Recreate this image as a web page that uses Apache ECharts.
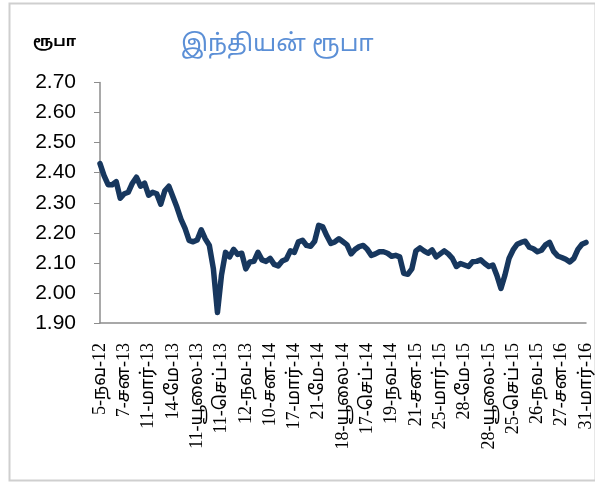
<!DOCTYPE html>
<html>
<head>
<meta charset="utf-8">
<script src="https://cdn.jsdelivr.net/npm/echarts@6/dist/echarts.min.js"></script>
<style>
  html, body { margin: 0; padding: 0; background: #fff; }
  #rupee { width: 595px; height: 484px; }
</style>
</head>
<body>
<div id="rupee"></div>
<script>
// tick labels shown every 6th point on the x axis
const tickLabels = [
    '5-நவ-12', '7-சன-13', '11-மார்-13', '14-மே-13', '11-யூலை-13', '11-செப்-13',
    '12-நவ-13', '10-சன-14', '17-மார்-14', '21-மே-14', '18-யூலை-14', '17-செப்-14',
    '19-நவ-14', '21-சன-15', '25-மார்-15', '28-மே-15', '28-யூலை-15', '25-செப்-15',
    '26-நவ-15', '27-சன-16', '31-மார்-16'
];
const pointsPerTick = 6;

// rupee values
const rates = [
    2.43, 2.39, 2.36, 2.36, 2.37, 2.315,
    2.33, 2.335, 2.365, 2.385, 2.355, 2.365,
    2.325, 2.335, 2.33, 2.295, 2.34, 2.355,
    2.32, 2.285, 2.245, 2.215, 2.175, 2.17,
    2.176, 2.21, 2.18, 2.158, 2.08, 1.935,
    2.06, 2.135, 2.12, 2.145, 2.128, 2.132,
    2.08, 2.103, 2.105, 2.135, 2.11, 2.105,
    2.115, 2.095, 2.09, 2.106, 2.112, 2.14,
    2.135, 2.17, 2.175, 2.158, 2.155, 2.172,
    2.225, 2.22, 2.19, 2.165, 2.17, 2.18,
    2.17, 2.16, 2.13, 2.145, 2.154, 2.158,
    2.145, 2.125, 2.13, 2.137, 2.137, 2.132,
    2.122, 2.125, 2.12, 2.065, 2.062, 2.08,
    2.14, 2.15, 2.14, 2.132, 2.143, 2.12,
    2.13, 2.14, 2.13, 2.115, 2.088, 2.098,
    2.093, 2.088, 2.104, 2.105, 2.11, 2.098,
    2.088, 2.093, 2.058, 2.015, 2.06, 2.115,
    2.143, 2.162, 2.168, 2.172, 2.152, 2.147,
    2.137, 2.142, 2.16, 2.168, 2.138, 2.123,
    2.118, 2.112, 2.103, 2.115, 2.145, 2.162,
    2.168
];

const categories = rates.map((v, i) =>
    i % pointsPerTick === 0 ? tickLabels[i / pointsPerTick] : 'p' + i);

const tamilFont = "'Noto Sans Tamil', 'Latha', 'Noto Sans', sans-serif";
const axisGrey = '#8c8c8c';

option = {
    backgroundColor: '#fff',
    animation: false,
    title: [
        {
            text: 'இந்தியன் ரூபா',
            left: 176,
            top: 29,
            textStyle: {color: '#5b8fd6', fontSize: 24, fontWeight: 'normal', fontFamily: tamilFont},
        }, {
            text: 'ரூபா',
            left: 28,
            top: 30,
            textStyle: {color: '#000', fontSize: 15, fontWeight: 'bold', fontFamily: tamilFont},
        }
    ],
    grid: {
        left: 100,
        right: 9,
        top: 82.5,
        bottom: 161,
    },
    xAxis: {
        type: 'category',
        data: categories,
        boundaryGap: false,
        axisLine: {lineStyle: {color: axisGrey, width: 1.5}},
        axisTick: {show: false},
        axisLabel: {
            interval: pointsPerTick - 1,
            rotate: 90,
            margin: 20,
            color: '#000',
            fontSize: 18,
            fontFamily: "'Liberation Serif', " + tamilFont,
        },
        splitLine: {show: false},
    },
    yAxis: {
        type: 'value',
        min: 1.9,
        max: 2.7,
        interval: 0.1,
        axisLine: {show: true, lineStyle: {color: axisGrey, width: 1.5}},
        axisTick: {show: true, length: 6, lineStyle: {color: axisGrey}},
        splitLine: {show: false},
        axisLabel: {
            margin: 24,
            color: '#000',
            fontSize: 21,
            fontFamily: "'Liberation Sans', sans-serif",
            formatter: v => v.toFixed(2),
        },
    },
    series: [
        {
            name: 'ரூபா',
            type: 'line',
            data: rates,
            showSymbol: false,
            smooth: false,
            lineStyle: {color: '#17375e', width: 5.5, join: 'round', cap: 'round'},
        }
    ],
    graphic: [
        {
            type: 'rect',
            shape: {x: 9.5, y: 3.5, width: 586, height: 477},
            style: {fill: 'none', stroke: '#cfcfcf', lineWidth: 2},
            silent: true,
        }
    ],
};

dom = document.getElementById('rupee');
chart = echarts.init(dom);
chart.setOption(option);
</script>
</body>
</html>
